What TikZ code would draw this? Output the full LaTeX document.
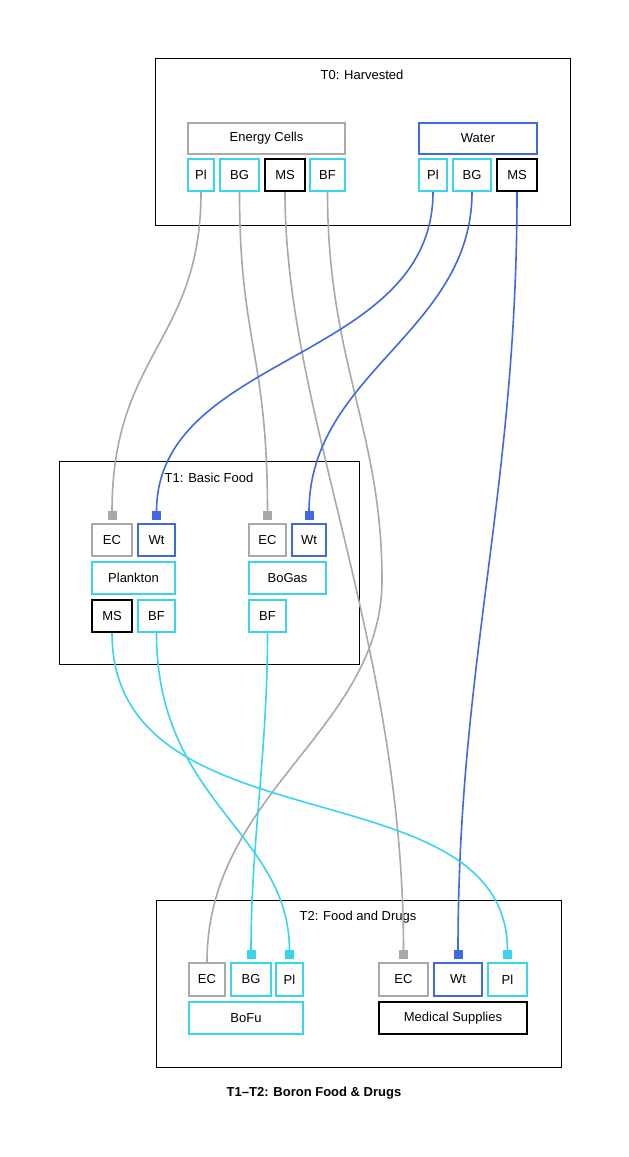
\documentclass[tikz,border=0pt]{standalone}
\usepackage{fontspec}
\setmainfont{Liberation Sans}
\usetikzlibrary{arrows.meta}
\definecolor{cg}{HTML}{A9A9A9}
\definecolor{cb}{HTML}{4169E1}
\definecolor{cc}{HTML}{3BD4F0}
\newcommand{\bx}[7]{\node[draw=#6,line width=1.6pt,inner sep=0pt,minimum width={(#4-#2-1.6)*1pt},minimum height={(#5-#3-1.6)*1pt},font=\fontsize{13pt}{15pt}\selectfont] (#1) at ({(#2+#4)/2},{(#3+#5)/2}) {#7};}
\tikzset{
 e/.style={line width=1.6pt,-{Square[length=9pt,width=9pt]},shorten >=3pt},
 ee/.style={line width=1.6pt},
 cl/.style={draw=black,line width=0.9pt},
 ti/.style={font=\fontsize{13pt}{15pt}\selectfont}
}
\begin{document}
\begin{tikzpicture}[x=1pt,y=-1pt]
\useasboundingbox (0,0) rectangle (629,1157);
\fill[white] (0,0) rectangle (629,1157);
% clusters
\draw[cl] (155,58) rectangle (570,225);
\node[ti] (t0) at (362,75) {T0: Harvested};
\draw[cl] (59,461) rectangle (359,664);
\node[ti] (t1) at (209,478) {T1: Basic Food};
\draw[cl] (156,900) rectangle (561,1067);
\node[ti] (t2) at (358,917) {T2: Food and Drugs};
% T0
\bx{ec}{187}{122}{346}{155}{cg}{Energy Cells}
\bx{ecpl}{187}{158}{215}{192}{cc}{Pl}
\bx{ecbg}{219}{158}{260}{192}{cc}{BG}
\bx{ecms}{264}{158}{306}{192}{black}{MS}
\bx{ecbf}{309}{158}{346}{192}{cc}{BF}
\bx{wa}{418}{122}{538}{155}{cb}{Water}
\bx{wapl}{418}{158}{448}{192}{cc}{Pl}
\bx{wabg}{452}{158}{492}{192}{cc}{BG}
\bx{wams}{496}{158}{538}{192}{black}{MS}
% T1
\bx{pec}{91}{523}{133}{557}{cg}{EC}
\bx{pwt}{137}{523}{176}{557}{cb}{Wt}
\bx{pl}{91}{561}{176}{595}{cc}{Plankton}
\bx{pms}{91}{599}{133}{633}{black}{MS}
\bx{pbf}{137}{599}{176}{633}{cc}{BF}
\bx{gec}{248}{523}{287}{557}{cg}{EC}
\bx{gwt}{291}{523}{327}{557}{cb}{Wt}
\bx{bg}{248}{561}{327}{595}{cc}{BoGas}
\bx{gbf}{248}{599}{287}{633}{cc}{BF}
% T2
\bx{fec}{188}{962}{226}{997}{cg}{EC}
\bx{fbg}{230}{962}{272}{997}{cc}{BG}
\bx{fpl}{275}{962}{304}{997}{cc}{Pl}
\bx{bf}{188}{1001}{304}{1035}{cc}{BoFu}
\bx{mec}{378}{962}{429}{997}{cg}{EC}
\bx{mwt}{433}{962}{483}{997}{cb}{Wt}
\bx{mpl}{487}{962}{528}{997}{cc}{Pl}
\bx{ms}{378}{1001}{528}{1035}{black}{Medical Supplies}
\node[font=\bfseries\fontsize{13pt}{15pt}\selectfont] (cap) at (314,1093) {T1–T2: Boron Food \& Drugs};
% edges
\draw[e,cg] (ecpl.south) .. controls +(0,150) and +(0,-170) .. (pec.north);
\draw[e,cg] (ecbg.south) .. controls +(0,150) and +(0,-170) .. (gec.north);
\draw[e,cg] (ecms.south) .. controls +(0,220) and +(0,-320) .. (mec.north);
\draw[ee,cg] (ecbf.south) .. controls +(0,170) and +(0,-150) .. (382,580) .. controls +(0,150) and +(0,-170) .. (fec.north);
\draw[e,cb] (wapl.south) .. controls +(0,170) and +(0,-170) .. (pwt.north);
\draw[e,cb] (wabg.south) .. controls +(0,140) and +(0,-150) .. (gwt.north);
\draw[e,cb] (wams.south) .. controls +(0,300) and +(0,-300) .. (mwt.north);
\draw[e,cc] (pms.south) .. controls +(0,220) and +(0,-200) .. (mpl.north);
\draw[e,cc] (pbf.south) .. controls +(0,170) and +(0,-130) .. (fpl.north);
\draw[e,cc] (gbf.south) .. controls +(0,120) and +(0,-120) .. (fbg.north);
\end{tikzpicture}
\end{document}
